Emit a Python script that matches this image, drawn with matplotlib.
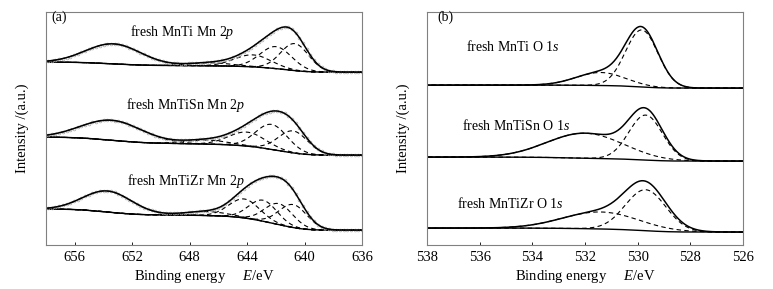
import numpy as np
import matplotlib
matplotlib.use("Agg")
import matplotlib.pyplot as plt

plt.rcParams["font.family"] = ["Liberation Serif", "DejaVu Serif"]
plt.rcParams["mathtext.fontset"] = "custom"
plt.rcParams["mathtext.rm"] = "Liberation Serif"
plt.rcParams["mathtext.it"] = "Liberation Serif:italic"

# ---- Mn 2p panel (a) ----
mn_labels = ["fresh MnTi Mn 2$p$", "fresh MnTiSn Mn 2$p$", "fresh MnTiZr Mn 2$p$"]
mn_bg_high = [183, 108, 36]   # background at high BE side (658 eV)
mn_bg_low = [173, 90, 15]     # background at low BE side (636 eV)
# fitted components: centre (eV), height, FWHM
mn_centers = [[640.7, 642.0, 643.6, 646.5, 653.3],
              [640.8, 642.3, 644.0, 646.8, 653.4],
              [640.8, 641.8, 642.9, 644.2, 646.8, 653.7]]
mn_heights = [[27, 22, 12, 3, 20],
              [22, 25, 14, 4, 20],
              [23, 21, 21, 19, 4, 21]]
mn_fwhm = [[2.3, 2.6, 3.0, 3.5, 4.5],
           [2.4, 2.6, 3.0, 3.5, 5.0],
           [2.3, 2.3, 2.3, 2.5, 3.5, 4.0]]
mn_label_pos = [(648.5, 213), (648.3, 140), (648.3, 64)]

# ---- O 1s panel (b) ----
o_labels = ["fresh MnTi O 1$s$", "fresh MnTiSn O 1$s$", "fresh MnTiZr O 1$s$"]
o_bg_high = [160, 88, 17]
o_bg_low = [157, 84, 13]
o_centers = [[529.85, 531.4], [529.7, 532.0], [529.7, 531.4]]
o_heights = [[57, 13], [45, 25], [41, 17]]
o_fwhm = [[1.45, 2.2], [1.5, 3.4], [1.8, 3.4]]
o_label_pos = [(534.75, 199), (534.6, 120), (534.85, 42)]


def gauss(x, c, h, w):
    return h * np.exp(-4 * np.log(2) * ((x - c) / w) ** 2)


def draw_spectrum(ax, x, centers, heights, widths, bg_high, bg_low, raw=False):
    comps = [gauss(x, c, h, w) for c, h, w in zip(centers, heights, widths)]
    total = np.sum(comps, axis=0)
    # Shirley-type step background (x ascending)
    frac = np.cumsum(total) / np.sum(total)
    bg = bg_low + (bg_high - bg_low) * frac
    for comp in comps:
        ax.plot(x, bg + comp, color="black", lw=0.8, ls=(0, (4, 3)))
    ax.plot(x, bg, color="black", lw=1.0)
    env = bg + total
    if raw:
        ax.plot(x, env, ls="none", marker="o", ms=2.0, mfc="none",
                mec="#a8a8a8", mew=0.5, markevery=7)
    ax.plot(x, env, color="black", lw=1.1)


fig = plt.figure(figsize=(7.73, 2.89), dpi=100)
ax_a = fig.add_axes([0.0595, 0.152, 0.409, 0.806])
ax_b = fig.add_axes([0.5524, 0.152, 0.409, 0.806])

x_mn = np.linspace(636, 658, 600)
for i in range(3):
    draw_spectrum(ax_a, x_mn, mn_centers[i], mn_heights[i], mn_fwhm[i],
                  mn_bg_high[i], mn_bg_low[i], raw=True)
    ax_a.text(*mn_label_pos[i], mn_labels[i], ha="center", va="center", fontsize=10)

x_o = np.linspace(526, 538, 400)
for i in range(3):
    draw_spectrum(ax_b, x_o, o_centers[i], o_heights[i], o_fwhm[i],
                  o_bg_high[i], o_bg_low[i])
    ax_b.text(*o_label_pos[i], o_labels[i], ha="center", va="center", fontsize=10)

ax_a.set_xlim(658, 636)
ax_a.set_xticks([656, 652, 648, 644, 640, 636])
ax_b.set_xlim(538, 526)
ax_b.set_xticks([538, 536, 534, 532, 530, 528, 526])
ax_a.text(657.6, 228, "(a)", ha="left", va="center", fontsize=10)
ax_b.text(537.6, 228, "(b)", ha="left", va="center", fontsize=10)

for ax in (ax_a, ax_b):
    ax.set_ylim(0, 233)
    ax.set_yticks([])
    ax.tick_params(axis="x", direction="in", length=2.5, width=0.6,
                   labelsize=10.5, pad=4)
    for s in ax.spines.values():
        s.set_color("#808080")
        s.set_linewidth(0.8)
    ax.set_xlabel("Binding energy     $E$/eV", fontsize=10.5, labelpad=3)
    ax.set_ylabel("Intensity /(a.u.)", fontsize=10.5, labelpad=12)

fig.savefig("out.png", dpi=100)
